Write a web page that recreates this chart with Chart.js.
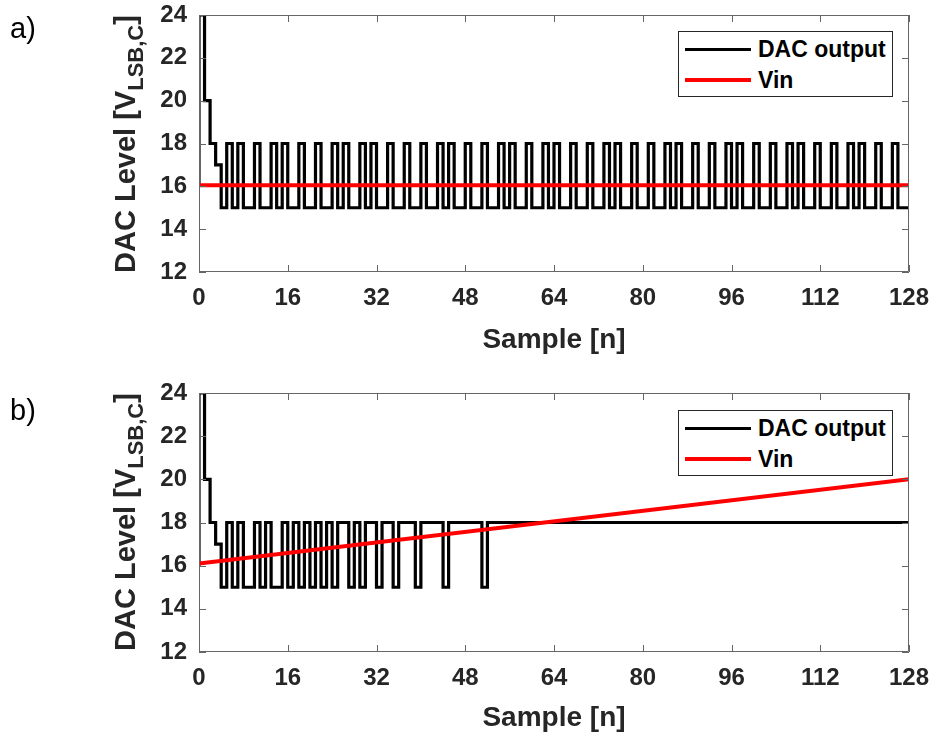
<!DOCTYPE html>
<html>
<head>
<meta charset="utf-8">
<script src="https://cdn.jsdelivr.net/npm/chart.js@4.4.1/dist/chart.umd.min.js"></script>
<style>
  body { margin: 0; background: #fff; font-family: "Liberation Sans", Arial, sans-serif; }
  #fig { position: relative; width: 935px; height: 738px; overflow: hidden; }
  canvas { position: absolute; left: 0; }
  .panel { position: absolute; left: 10px; font-size: 29px; line-height: 29px; color: #000; }
  .ytitle { position: absolute; font-weight: bold; font-size: 29px; line-height: 34px; white-space: nowrap; color: #262626;
            transform: translate(-50%, -50%) rotate(-90deg); }
  .ytitle sub { font-size: 22px; line-height: 0; vertical-align: -8px; }
  .legend { position: absolute; left: 678px; width: 215px; height: 66px; border: 1px solid #262626; background: #fff; box-sizing: border-box; }
  .legend .row { position: absolute; left: 6px; height: 30px; display: flex; align-items: center; font-weight: bold; font-size: 23px; color: #000; }
  .legend .swatch { width: 66px; margin-right: 7px; }
</style>
</head>
<body>
<div id="fig">
  <canvas id="chartA" width="935" height="369" style="top:0"></canvas>
  <canvas id="chartB" width="935" height="369" style="top:369px"></canvas>

  <div class="panel" style="top:14px">a)</div>
  <div class="panel" style="top:396px">b)</div>

  <div class="ytitle" style="left:125px; top:144px">DAC Level [V<sub>LSB,C</sub>]</div>
  <div class="ytitle" style="left:125px; top:522px">DAC Level [V<sub>LSB,C</sub>]</div>

  <div class="legend" style="top:31px">
    <div class="row" style="top:2px"><span class="swatch" style="height:3px;background:#000"></span>DAC output</div>
    <div class="row" style="top:33px"><span class="swatch" style="height:4px;background:#ff0000"></span>Vin</div>
  </div>
  <div class="legend" style="top:410px">
    <div class="row" style="top:2px"><span class="swatch" style="height:3px;background:#000"></span>DAC output</div>
    <div class="row" style="top:33px"><span class="swatch" style="height:4px;background:#ff0000"></span>Vin</div>
  </div>
</div>

<script>
// axis ticks
const xTicks = [0, 16, 32, 48, 64, 80, 96, 112, 128];
const yTicks = [12, 14, 16, 18, 20, 22, 24];

// a) DAC output, one value per sample n = 0..128
const dacA = [
  16, 24, 20, 18, 17, 15, 18, 15, 18, 15, 15, 18, 15, 15, 18, 15,
  18, 15, 15, 18, 15, 15, 18, 15, 15, 18, 15, 18, 15, 15, 18, 15,
  18, 15, 15, 18, 15, 15, 18, 15, 15, 18, 15, 15, 18, 15, 18, 15,
  15, 18, 15, 15, 18, 15, 15, 18, 15, 18, 15, 15, 18, 15, 15, 18,
  15, 18, 15, 15, 18, 15, 15, 18, 15, 15, 18, 15, 18, 15, 15, 18,
  15, 15, 18, 15, 15, 18, 15, 18, 15, 15, 18, 15, 15, 18, 15, 15,
  18, 15, 18, 15, 15, 18, 15, 15, 18, 15, 15, 18, 15, 18, 15, 15,
  18, 15, 15, 18, 15, 15, 18, 15, 18, 15, 15, 18, 15, 15, 18, 15,
  15
];

// b) DAC output, one value per sample n = 0..128
const dacB = [
  16, 24, 20, 18, 17, 15, 18, 15, 18, 15, 15, 18, 15, 18, 15, 15,
  18, 15, 18, 15, 18, 15, 18, 15, 18, 15, 18, 18, 15, 18, 15, 18,
  18, 15, 18, 18, 15, 18, 18, 18, 15, 18, 18, 18, 18, 15, 18, 18,
  18, 18, 18, 18, 15, 18, 18, 18, 18, 18, 18, 18, 18, 18, 18, 18,
  18, 18, 18, 18, 18, 18, 18, 18, 18, 18, 18, 18, 18, 18, 18, 18,
  18, 18, 18, 18, 18, 18, 18, 18, 18, 18, 18, 18, 18, 18, 18, 18,
  18, 18, 18, 18, 18, 18, 18, 18, 18, 18, 18, 18, 18, 18, 18, 18,
  18, 18, 18, 18, 18, 18, 18, 18, 18, 18, 18, 18, 18, 18, 18, 18,
  18
];

// Vin (input level) at the first and last sample
const vinX = [0, 128];
const vinA = [16.05, 16.05];
const vinB = [16.1, 20];

const FONT = "'Liberation Sans', Arial, sans-serif";
const TEXT_COLOR = '#262626';
const BOX_COLOR = '#666666';

// MATLAB style box with inward ticks on all four sides
const boxPlugin = {
  id: 'matlabBox',
  afterDatasetsDraw(chart) {
    const { ctx, chartArea: a, scales: { x, y } } = chart;
    const len = 7;
    ctx.save();
    ctx.strokeStyle = BOX_COLOR;
    ctx.lineWidth = 1;
    ctx.beginPath();
    ctx.rect(a.left + 0.5, a.top + 0.5, a.right - a.left - 1, a.bottom - a.top - 1);
    xTicks.forEach(v => {
      const px = Math.round(x.getPixelForValue(v)) + 0.5;
      ctx.moveTo(px, a.bottom); ctx.lineTo(px, a.bottom - len);
      ctx.moveTo(px, a.top); ctx.lineTo(px, a.top + len);
    });
    yTicks.forEach(v => {
      const py = Math.round(y.getPixelForValue(v)) + 0.5;
      ctx.moveTo(a.left, py); ctx.lineTo(a.left + len, py);
      ctx.moveTo(a.right, py); ctx.lineTo(a.right - len, py);
    });
    ctx.stroke();
    ctx.restore();
  }
};

// keep label overhang from shrinking the plot box
function noOverhang(s) {
  s.paddingTop = 0; s.paddingBottom = 0; s.paddingLeft = 0; s.paddingRight = 0;
}

function makeChart(id, dac, vin, padTop, xHeight, titlePad) {
  const dacPoints = dac.map((v, n) => ({ x: n, y: v }));
  const vinPoints = vin.map((v, i) => ({ x: vinX[i], y: v }));
  return new Chart(document.getElementById(id), {
    type: 'line',
    data: {
      datasets: [{
        label: 'Vin',
        data: vinPoints,
        borderColor: '#ff0000',
        borderWidth: 4,
        pointRadius: 0,
        tension: 0
      }, {
        label: 'DAC output',
        data: dacPoints,
        borderColor: '#000000',
        borderWidth: 3.2,
        pointRadius: 0,
        stepped: 'after',
        borderJoinStyle: 'miter'
      }]
    },
    options: {
      responsive: false,
      devicePixelRatio: 1,
      animation: false,
      layout: { padding: { top: padTop, right: 26, left: 0, bottom: 0 } },
      plugins: { legend: { display: false }, tooltip: { enabled: false } },
      scales: {
        x: {
          type: 'linear', min: 0, max: 128,
          afterBuildTicks: s => { s.ticks = xTicks.map(v => ({ value: v })); },
          afterFit: s => { s.height = xHeight; noOverhang(s); },
          grid: { display: false, drawTicks: false },
          border: { display: false },
          ticks: { color: TEXT_COLOR, padding: 12, maxRotation: 0, autoSkip: false,
                   font: { family: FONT, size: 24, weight: 'bold' } },
          title: { display: true, text: 'Sample [n]', color: TEXT_COLOR,
                   padding: { top: 0, bottom: titlePad },
                   font: { family: FONT, size: 28, weight: 'bold' } }
        },
        y: {
          type: 'linear', min: 12, max: 24,
          afterBuildTicks: s => { s.ticks = yTicks.map(v => ({ value: v })); },
          afterFit: s => { s.width = 199; noOverhang(s); },
          grid: { display: false, drawTicks: false },
          border: { display: false },
          ticks: { color: TEXT_COLOR, padding: 12,
                   font: { family: FONT, size: 24, weight: 'bold' } }
        }
      }
    },
    plugins: [boxPlugin]
  });
}

makeChart('chartA', dacA, vinA, 15, 97, 12);
makeChart('chartB', dacB, vinB, 24, 86, 3);
</script>
</body>
</html>
